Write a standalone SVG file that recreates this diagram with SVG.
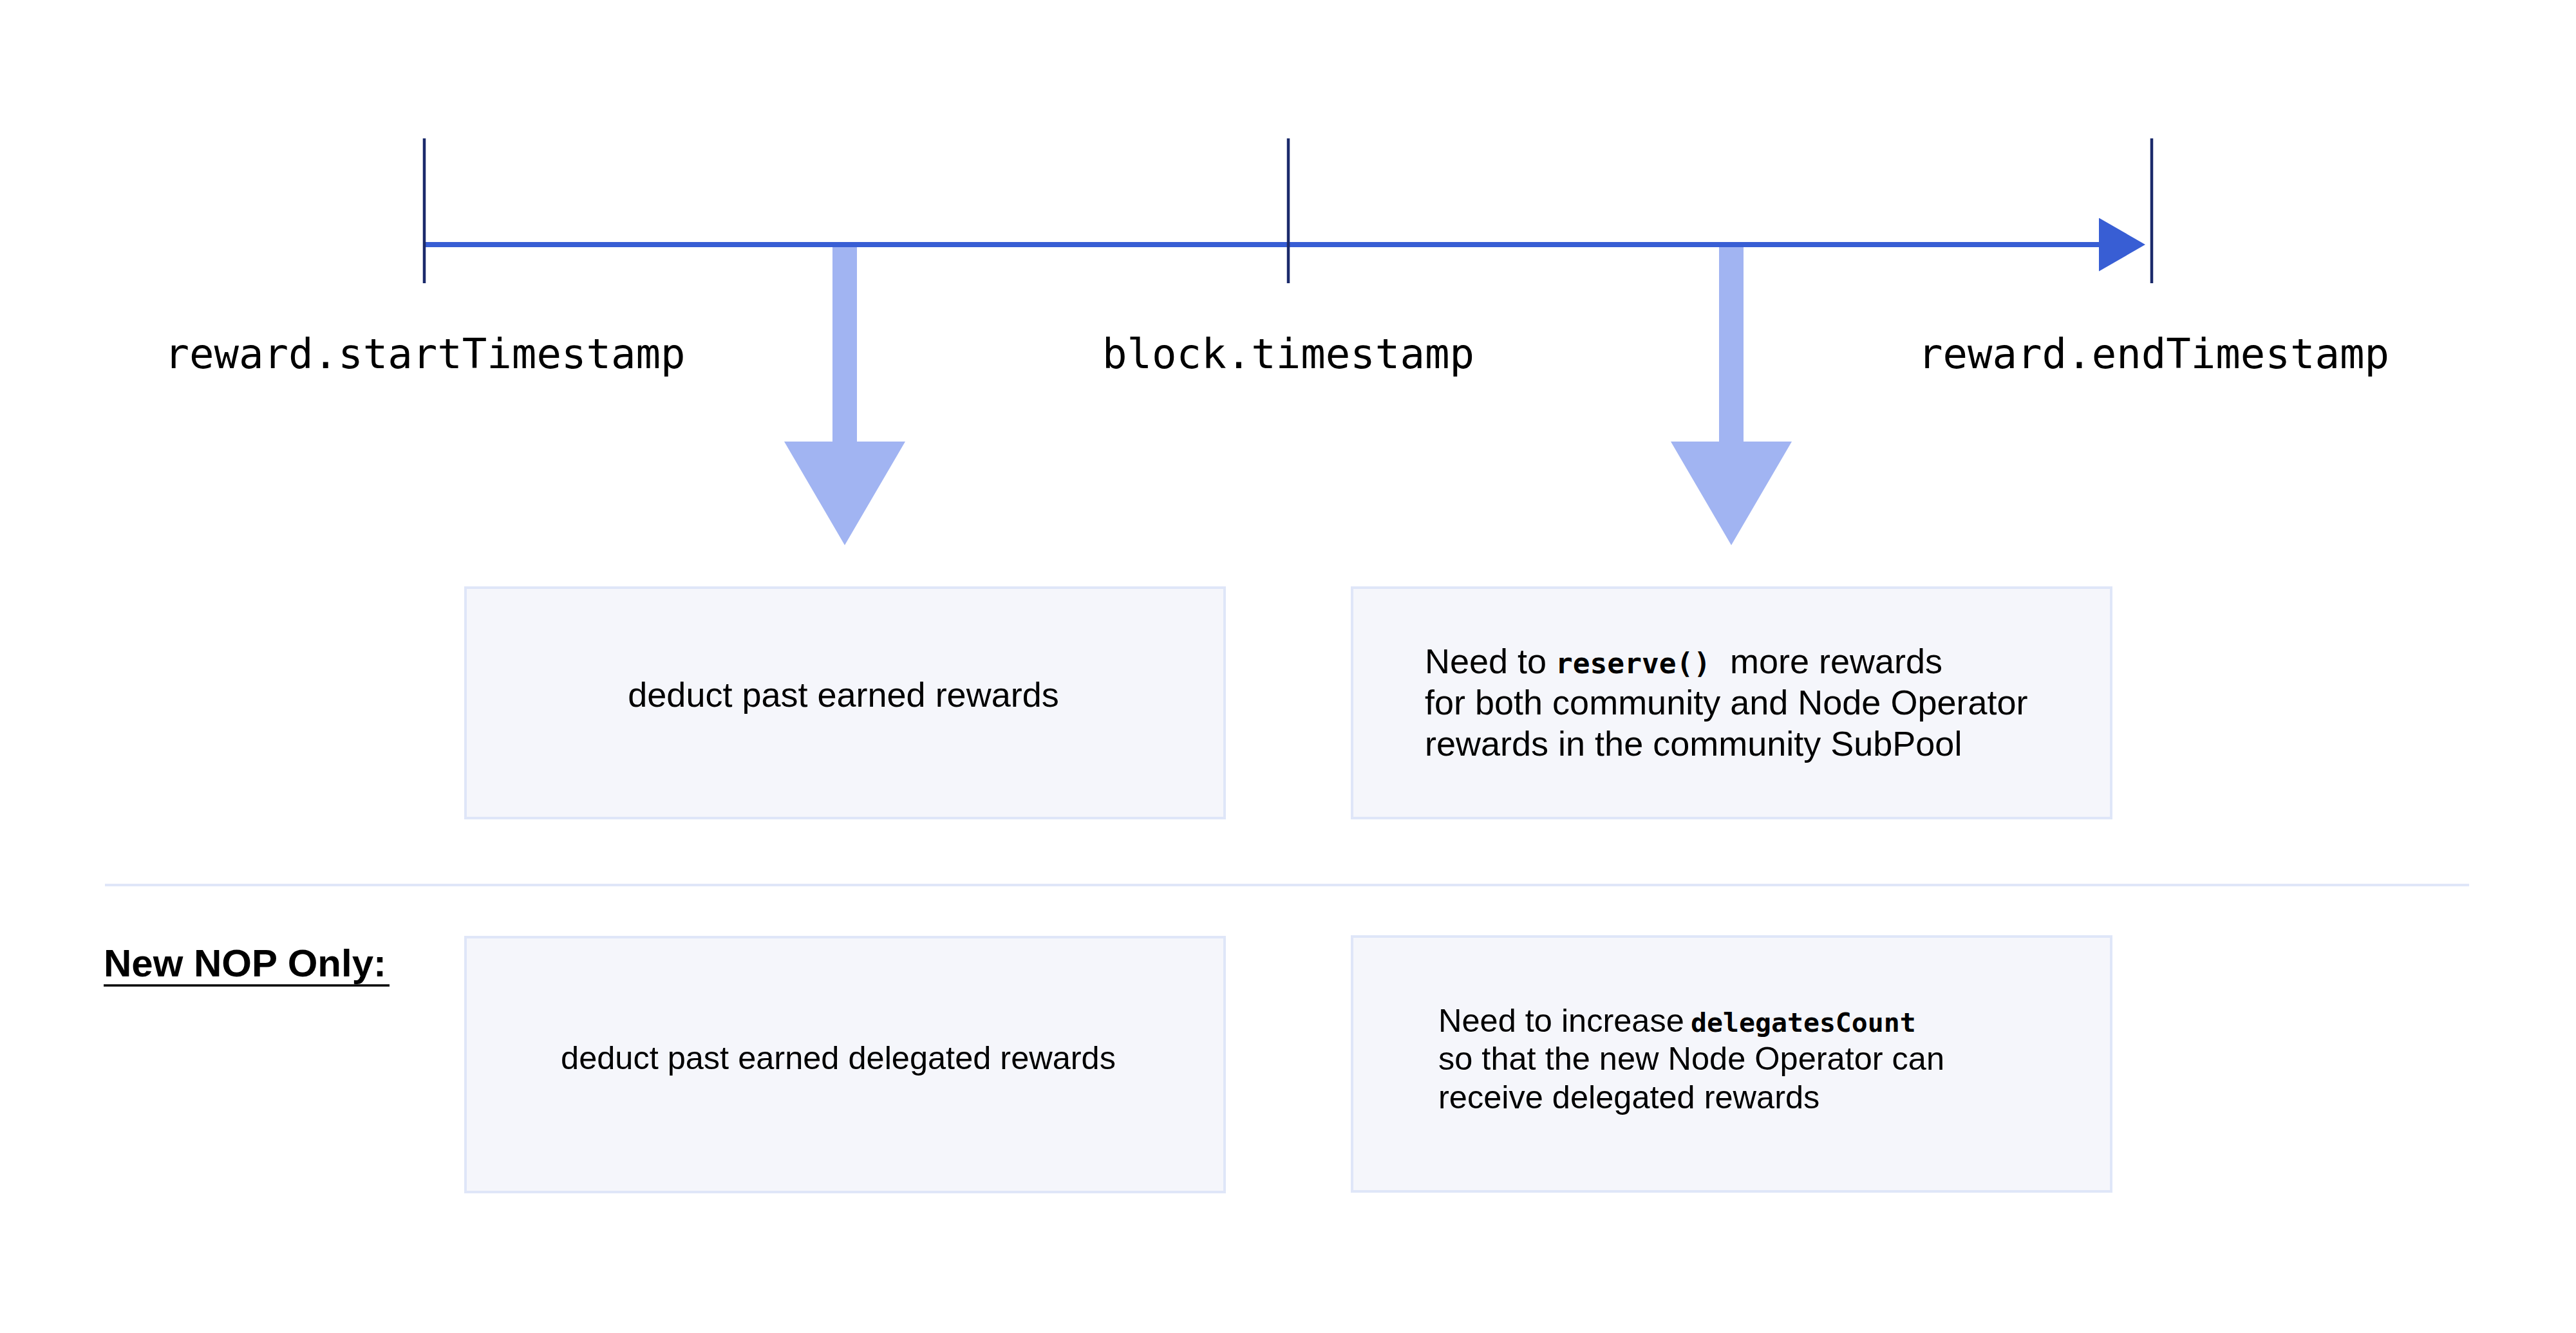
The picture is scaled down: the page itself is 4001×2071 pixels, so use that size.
<svg xmlns="http://www.w3.org/2000/svg" width="4001" height="2071" viewBox="0 0 4001 2071">
<style>
  .tick { stroke: #1b2a6b; stroke-width: 4.5; }
  .axis { stroke: #385ed4; stroke-width: 8; fill: none; }
  .bigarrow { fill: #a1b4f2; }
  .box { fill: #f5f6fb; stroke: #dfe6f8; stroke-width: 4; }
  .sep { stroke: #dfe6f8; stroke-width: 4; }
  .lbl { font-family: "DejaVu Sans Mono", "Liberation Mono", monospace; font-size: 64px; fill: #000; text-anchor: middle; }
  .t54 { font-family: "Liberation Sans", Arial, sans-serif; font-size: 54px; fill: #000; }
  .t50 { font-family: "Liberation Sans", Arial, sans-serif; font-size: 50.5px; fill: #000; }
  .code { font-family: "DejaVu Sans Mono", "Liberation Mono", monospace; font-weight: bold; }
  .hdr { font-family: "Liberation Sans", Arial, sans-serif; font-size: 60px; font-weight: bold; fill: #000; }
</style>
<defs>
  <marker id="axisHead" viewBox="0 0 72 83" markerWidth="72" markerHeight="83" refX="2" refY="41.5" orient="auto" markerUnits="userSpaceOnUse">
    <path d="M0,0 L72,41.5 L0,83 Z" fill="#385ed4"/>
  </marker>
</defs>
<rect x="0" y="0" width="4001" height="2071" fill="#ffffff"/>

<g id="connectors">
  <polygon id="arrow-past" class="bigarrow" points="1293,380 1331,380 1331,686 1406,686 1312,847 1218,686 1293,686"/>
  <polygon id="arrow-future" class="bigarrow" points="2670,380 2708,380 2708,686 2783,686 2689,847 2595,686 2670,686"/>
  <line id="timeline" class="axis" x1="659" y1="380" x2="3262" y2="380" marker-end="url(#axisHead)"/>
</g>

<g id="tick-start">
  <line class="tick" x1="659" y1="215" x2="659" y2="440"/>
  <text class="lbl" x="660" y="572">reward.startTimestamp</text>
</g>
<g id="tick-block">
  <line class="tick" x1="2001" y1="215" x2="2001" y2="440"/>
  <text class="lbl" x="2001" y="572">block.timestamp</text>
</g>
<g id="tick-end">
  <line class="tick" x1="3342" y1="215" x2="3342" y2="440"/>
  <text class="lbl" x="3345" y="572">reward.endTimestamp</text>
</g>

<g id="box-deduct-past">
  <rect class="box" x="723" y="913" width="1179" height="358"/>
  <text class="t54" x="1310" y="1098" text-anchor="middle">deduct past earned rewards</text>
</g>

<g id="box-reserve">
  <rect class="box" x="2100" y="913" width="1179" height="358"/>
  <text class="t54" y="1046"><tspan x="2213">Need to</tspan><tspan class="code" x="2416" font-size="44.5">reserve()</tspan><tspan x="2687">more rewards</tspan></text>
  <text class="t54" x="2213" y="1110">for both community and Node Operator</text>
  <text class="t54" x="2213" y="1174">rewards in the community SubPool</text>
</g>

<line id="separator" class="sep" x1="163" y1="1375" x2="3835" y2="1375"/>

<g id="label-new-nop">
  <text class="hdr" x="161" y="1517">New NOP Only:</text>
  <line x1="161" y1="1531" x2="605" y2="1531" stroke="#000" stroke-width="3.6"/>
</g>

<g id="box-deduct-delegated">
  <rect class="box" x="723" y="1456" width="1179" height="396"/>
  <text class="t50" x="1302" y="1661" text-anchor="middle">deduct past earned delegated rewards</text>
</g>

<g id="box-delegates-count">
  <rect class="box" x="2100" y="1455" width="1179" height="396"/>
  <text class="t50" y="1603"><tspan x="2234">Need to increase</tspan><tspan class="code" x="2626" font-size="41.5">delegatesCount</tspan></text>
  <text class="t50" x="2234" y="1662">so that the new Node Operator can</text>
  <text class="t50" x="2234" y="1722">receive delegated rewards</text>
</g>
</svg>
